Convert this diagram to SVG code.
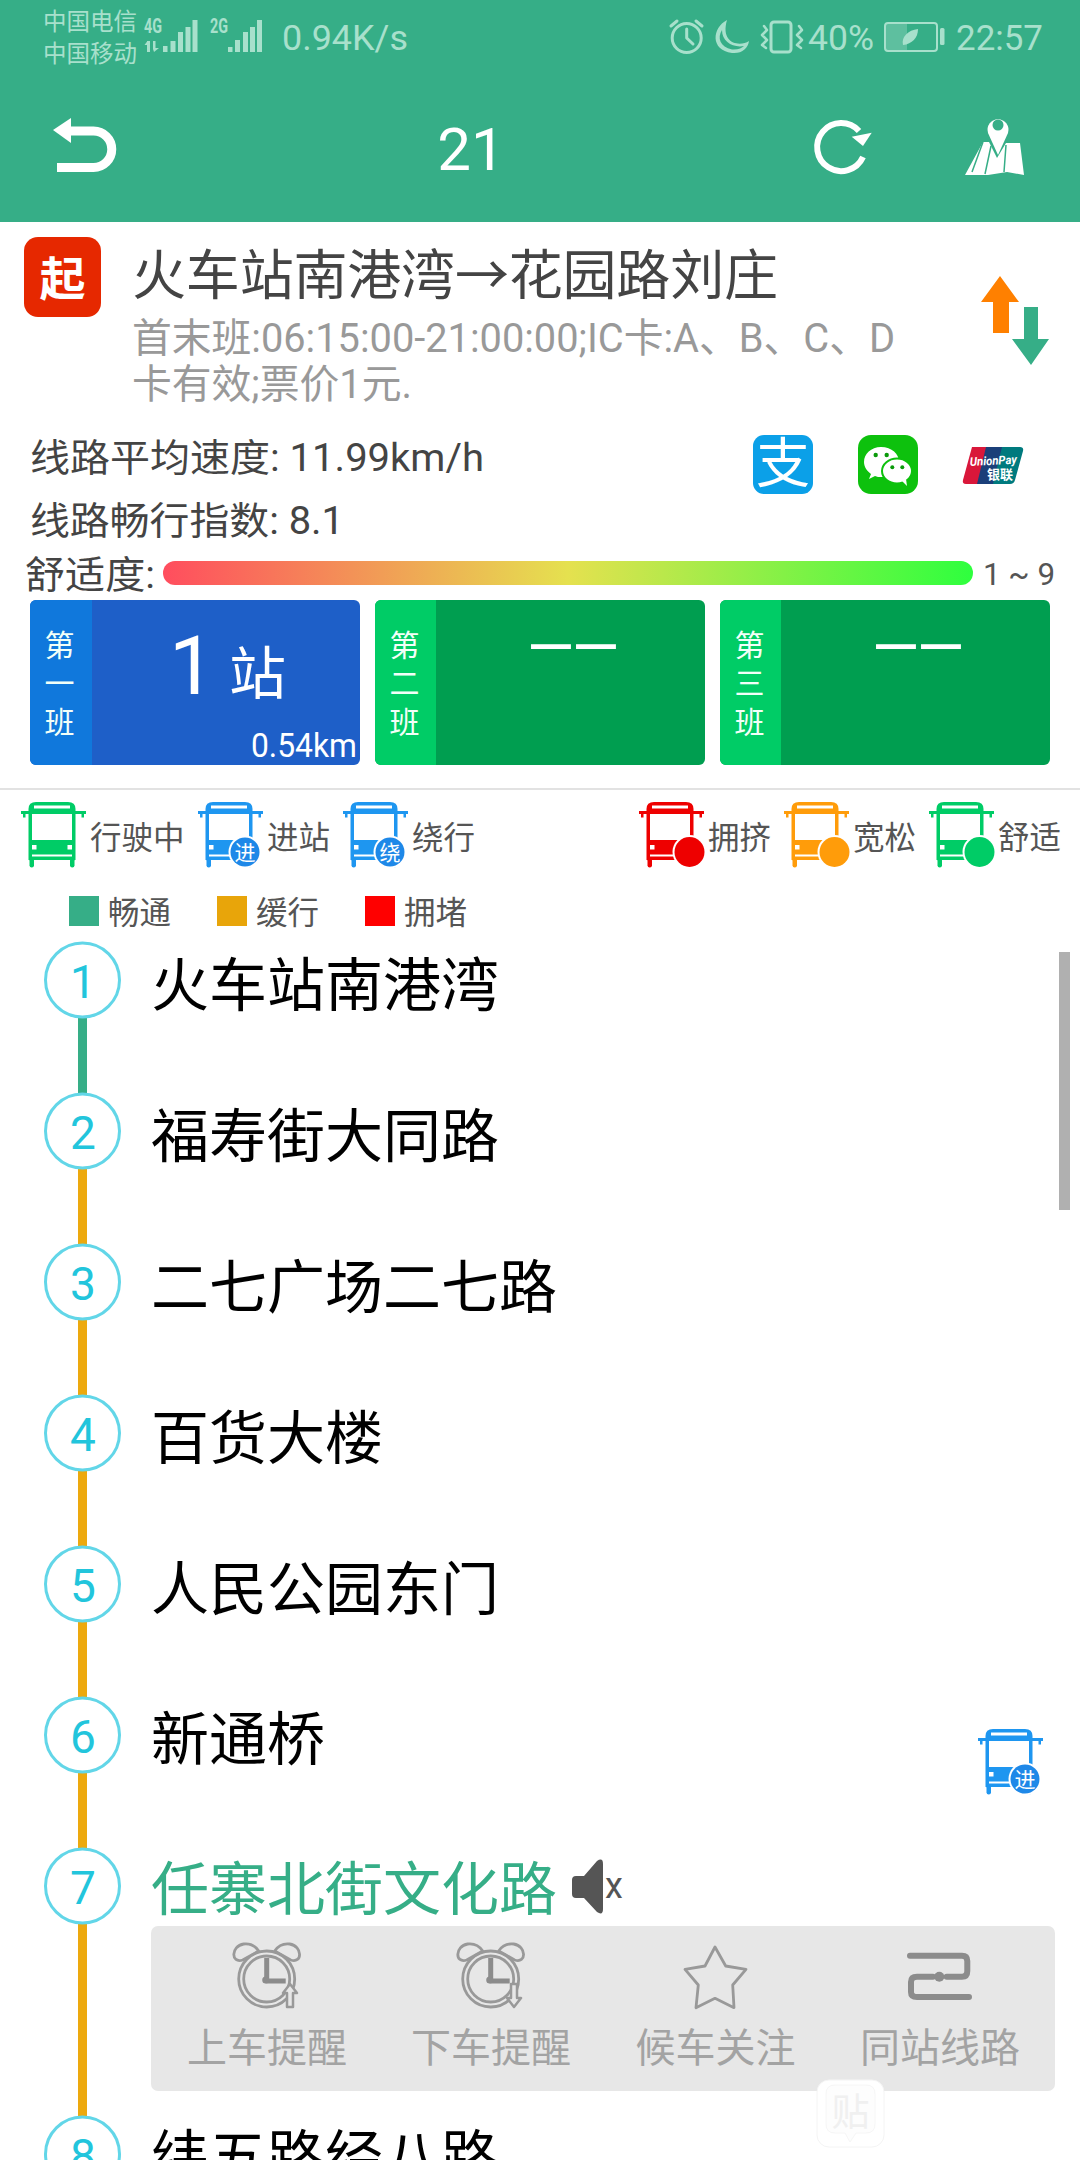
<svg xmlns="http://www.w3.org/2000/svg" width="1080" height="2160" viewBox="0 0 1080 2160">
<style>
text{font-family:Roboto,"Noto Sans CJK SC",sans-serif}
.st{fill:#a8e0cc;font-size:35px}
.car{fill:#a8e0cc;font-size:23.5px}
.si{fill:#a8e0cc}
.sl{fill:none;stroke:#a8e0cc;stroke-width:3;stroke-linecap:round;stroke-linejoin:round}
.info{fill:#444;font-size:38px}
.sub{fill:#999;font-size:40px}
.leg{fill:#555;font-size:31.5px}
.cv{fill:#f2fff8;font-size:30px;text-anchor:middle}
.num{fill:#22c5dc;font-size:46px;text-anchor:middle}
.ring{fill:#fff;stroke:#62d6e8;stroke-width:3}
.name{fill:#000;font-size:58px}
.lab{fill:#a3a3a3;font-size:40px}
.ic{fill:none;stroke:#999;stroke-width:2.800;stroke-linejoin:round;stroke-linecap:round}
.seg{stroke-width:9;fill:none}
.bb{fill:#fff;font-size:21px;text-anchor:middle}
</style>
<defs>
<linearGradient id="comfort" x1="0" y1="0" x2="1" y2="0"><stop offset="0" stop-color="#ff4d5e"/><stop offset=".5" stop-color="#e5e14f"/><stop offset="1" stop-color="#2eff3e"/></linearGradient>
<g id="bus">
<path d="M7.500 7Q7.500 0 15 0H47Q54.500 0 54.500 7V58H7.500Z"/>
<rect x="13" y="3.500" width="36" height="3" fill="#fff"/>
<rect x="11" y="12" width="40" height="26" fill="#fff"/>
<rect x="11" y="52.500" width="40" height="2" fill="#fff"/>
<rect x="11" y="43" width="4.500" height="4.500" fill="#fff"/>
<rect x="46.500" y="43" width="4.500" height="4.500" fill="#fff"/>
<path d="M0 9H8V12H4.500V15.500H2V12H0Z"/><path d="M65 9H54V12H60.500V15.500H63V12H65Z"/>
<rect x="8.500" y="56" width="4.500" height="9.500" rx="2.200"/><rect x="49" y="56" width="4.500" height="9.500" rx="2.200"/>
</g>
<g id="clock" class="ic">
<circle cx="0" cy="0" r="28"/>
<circle cx="0" cy="0" r="23"/>
<path d="M-24 -19C-36 -15 -36 -33 -23 -35C-14 -36 -10 -31 -8 -28Z"/>
<path d="M24 -19C36 -15 36 -33 23 -35C14 -36 10 -31 8 -28Z"/>
<path d="M0 -21V2H19" stroke="#8c8c8c" stroke-width="5" stroke-linecap="butt"/>
<circle cx="-1" cy="1" r="3.500" fill="#8c8c8c" stroke="none"/>
</g>
</defs>
<rect width="1080" height="2160" fill="#fff"/>

<g id="header">
<rect width="1080" height="222" fill="#36ae87"/>
<g id="status-bar">
<text class="car" x="43" y="30">中国电信</text>
<text class="car" x="43" y="62">中国移动</text>
<text x="144" y="33" fill="#a8e0cc" font-size="20" font-weight="700" textLength="18" lengthAdjust="spacingAndGlyphs">4G</text>
<path class="si" d="M147 41h3v11h-3zM144.500 45l3-4v4zM153 41h2.500v7h3.500l-5 4-1-3zM163 46h4.500v6H163zM170.500 41h5v11h-5zM178 32h5v20h-5zM185.500 27h5v25h-5zM192.500 20h5v32h-5z"/>
<text x="210" y="33" fill="#a8e0cc" font-size="20" font-weight="700" textLength="18" lengthAdjust="spacingAndGlyphs">2G</text>
<path class="si" d="M228 47h4.500v5H228zM235 40h5v12h-5zM243 32h5v20h-5zM250 27h5v25h-5zM257 20h5v32h-5z"/>
<text class="st" x="282" y="50" textLength="126" lengthAdjust="spacingAndGlyphs">0.94K/s</text>
<g class="sl"><circle cx="686.700" cy="38" r="14.500"/><path d="M686.700 29V38L693 44M671 26L677 21M702 26L696 21"/></g>
<path class="si" d="M727 20C712 28 710 50 732 53C742 54 748 48 749 41C740 47 720 44 727 20ZM722 30C717 38 720 47 732 49.500C738 50 742 48 744 46C733 48 722 42 722 30Z" fill-rule="evenodd"/>
<g class="sl"><rect x="771" y="22" width="20" height="30" rx="3"/><path d="M764 26L767 30L762 35L767 40L762 45L766 48M799 26L802 30L797 35L802 40L797 45L801 48" stroke-width="2.500"/></g>
<text class="st" x="808" y="50" textLength="66" lengthAdjust="spacingAndGlyphs">40%</text>
<rect x="885" y="23" width="52" height="28" rx="3" fill="none" stroke="#a8e0cc" stroke-width="2"/>
<rect x="886" y="24" width="21" height="26" fill="#a8e0cc" opacity=".35"/>
<path class="si" d="M903 45C901 37 908 30 918 29C918 38 912 44 903 45Z"/>
<rect x="940" y="28" width="4.500" height="17" rx="1.500" class="si"/>
<text class="st" x="956" y="50" textLength="87" lengthAdjust="spacingAndGlyphs">22:57</text>
</g>
<g id="back"><path d="M68 131H93.500A18 18 0 0 1 93.500 167.500H57" fill="none" stroke="#fff" stroke-width="9"/><path d="M53 130L71 118V143Z" fill="#fff"/></g>
<text id="route-title" x="471" y="170" fill="#fff" font-size="60" text-anchor="middle">21</text>
<g id="refresh"><path d="M859 131A24 24 0 1 0 863 157" fill="none" stroke="#fff" stroke-width="6"/><path d="M851.700 136.700L871.700 132.700L863 146Z" fill="#fff"/></g>
<g id="map">
<path d="M998 155L988 133A10.500 10.500 0 1 1 1008 133Z" fill="#fff"/><circle cx="998" cy="125" r="5.500" fill="#36ae87"/>
<path d="M983 142H989L997 158L1006 143H1020L1024 175L1007 172L988 175L965 175Z" fill="#fff"/>
<path d="M983 142L972 172M991 146L985 174M1006 145L1004 172" stroke="#36ae87" stroke-width="1.500" fill="none"/>
</g>
</g>

<g id="route-info">
<rect x="24" y="237" width="77" height="80" rx="14" fill="#e62800"/>
<text x="62.500" y="295" fill="#fff" font-size="46" font-weight="700" text-anchor="middle">起</text>
<text x="132" y="295" fill="#444" font-size="54" textLength="646" lengthAdjust="spacing">火车站南港湾→花园路刘庄</text>
<text class="sub" x="132" y="352" textLength="763" lengthAdjust="spacingAndGlyphs">首末班:06:15:00-21:00:00;IC卡:A、B、C、D</text>
<text class="sub" x="132" y="398" textLength="280" lengthAdjust="spacingAndGlyphs">卡有效;票价1元.</text>
<path d="M1000 276L1019 302H1009V333H993V302H981Z" fill="#ff8000"/>
<path d="M1031 365L1049 339H1038V307H1024V339H1012Z" fill="#36ae87"/>
</g>

<g id="stats">
<text class="info" x="30" y="471" textLength="454" lengthAdjust="spacingAndGlyphs">线路平均速度: 11.99km/h</text>
<text class="info" x="30" y="534" textLength="314" lengthAdjust="spacingAndGlyphs">线路畅行指数: 8.1</text>
<text class="info" x="25" y="588" textLength="130" lengthAdjust="spacingAndGlyphs">舒适度:</text>
<rect x="163" y="561" width="810" height="24" rx="12" fill="url(#comfort)"/>
<text x="983" y="585" fill="#555" font-size="32" textLength="72" lengthAdjust="spacingAndGlyphs">1 ~ 9</text>
<g id="alipay"><rect x="753" y="435" width="60" height="59" rx="11" fill="#0ba0e8"/><text x="783" y="483" fill="#fff" font-size="54" text-anchor="middle">支</text></g>
<g id="wechat"><rect x="858" y="435" width="60" height="59" rx="13" fill="#0dc10d"/>
<path d="M881 447C871 447 864 454 864 462C864 467 867 471 871 474L869 479L875 476C877 477 879 477 881 477C892 477 899 470 899 462C899 454 892 447 881 447Z" fill="#fff"/>
<ellipse cx="897" cy="471" rx="15" ry="12.500" fill="#fff" stroke="#0dc10d" stroke-width="2"/><path d="M902 481L907 486L906 479Z" fill="#fff"/>
<g fill="#0a9a0a"><circle cx="875.700" cy="455" r="2.200"/><circle cx="886.700" cy="455" r="2.200"/><circle cx="892.300" cy="467.300" r="2"/><circle cx="902.300" cy="467.300" r="2"/></g></g>
<g id="unionpay">
<path d="M972 447H990L981 484H966Q962 484 963 480Z" fill="#d9173a"/>
<path d="M986 447H1006L997 484H977Z" fill="#1b3f79"/>
<path d="M1002 447H1020Q1024 447 1023 451L1015 480Q1014 484 1010 484H993Z" fill="#007a7e"/>
<text x="970" y="466" fill="#fff" font-size="12" font-weight="700" font-style="italic" textLength="47" lengthAdjust="spacingAndGlyphs" transform="rotate(-3 970 466)">UnionPay</text>
<text x="987" y="479" fill="#fff" font-size="13" font-weight="700">银联</text>
</g>
</g>

<g id="card-1"><rect x="30" y="600" width="330" height="165" rx="6" fill="#1e5fc8"/><path d="M36 600H92V765H36A6 6 0 0 1 30 759V606A6 6 0 0 1 36 600Z" fill="#1078dc"/>
<text class="cv" x="59.500" y="656">第</text><text class="cv" x="59.500" y="694">一</text><text class="cv" x="59.500" y="733">班</text>
<text x="169" y="694" fill="#fff" font-size="82">1</text><text x="229" y="694" fill="#fff" font-size="57">站</text>
<text x="251" y="757" fill="#fff" font-size="33" textLength="106" lengthAdjust="spacingAndGlyphs">0.54km</text></g>
<g id="card-2"><rect x="375" y="600" width="330" height="165" rx="6" fill="#009e50"/><path d="M381 600H436V765H381A6 6 0 0 1 375 759V606A6 6 0 0 1 381 600Z" fill="#00cc66"/>
<text class="cv" x="404.500" y="656">第</text><text class="cv" x="404.500" y="694">二</text><text class="cv" x="404.500" y="733">班</text>
<text x="528" y="662" fill="#fff" font-size="42" font-weight="700" textLength="90" lengthAdjust="spacingAndGlyphs">——</text></g>
<g id="card-3"><rect x="720" y="600" width="330" height="165" rx="6" fill="#009e50"/><path d="M726 600H781V765H726A6 6 0 0 1 720 759V606A6 6 0 0 1 726 600Z" fill="#00cc66"/>
<text class="cv" x="749.500" y="656">第</text><text class="cv" x="749.500" y="694">三</text><text class="cv" x="749.500" y="733">班</text>
<text x="873" y="662" fill="#fff" font-size="42" font-weight="700" textLength="90" lengthAdjust="spacingAndGlyphs">——</text></g>
<rect id="divider" x="0" y="788" width="1080" height="2" fill="#e2e2e2"/>

<g id="legend-buses">
<g id="leg-running"><use href="#bus" x="21" y="802" fill="#00cc66"/><text class="leg" x="90" y="849">行驶中</text></g>
<g id="leg-arriving"><use href="#bus" x="198" y="802" fill="#1e96f0"/><circle cx="245" cy="852" r="16.500" fill="#fff"/><circle cx="245" cy="852" r="14.500" fill="#1e88e8"/><text class="bb" x="245" y="860">进</text><text class="leg" x="267" y="849">进站</text></g>
<g id="leg-detour"><use href="#bus" x="343" y="802" fill="#1e96f0"/><circle cx="390" cy="852" r="16.500" fill="#fff"/><circle cx="390" cy="852" r="14.500" fill="#1e88e8"/><text class="bb" x="390" y="860">绕</text><text class="leg" x="412" y="849">绕行</text></g>
<g id="leg-crowded"><use href="#bus" x="639" y="802" fill="#ee0000"/><circle cx="689.500" cy="852" r="17" fill="#fff"/><circle cx="689.500" cy="852" r="15" fill="#ee0000"/><text class="leg" x="708" y="849">拥挤</text></g>
<g id="leg-loose"><use href="#bus" x="784" y="802" fill="#ff9c0a"/><circle cx="834.500" cy="852" r="17" fill="#fff"/><circle cx="834.500" cy="852" r="15" fill="#ff9c0a"/><text class="leg" x="853" y="849">宽松</text></g>
<g id="leg-comfort"><use href="#bus" x="929" y="802" fill="#00cc66"/><circle cx="979.500" cy="852" r="17" fill="#fff"/><circle cx="979.500" cy="852" r="15" fill="#00cc66"/><text class="leg" x="998" y="849">舒适</text></g>
</g>
<g id="legend-traffic">
<g id="leg-smooth"><rect x="69" y="896" width="30" height="30" fill="#36ae87"/><text class="leg" x="108" y="924">畅通</text></g>
<g id="leg-slow"><rect x="217" y="896" width="30" height="30" fill="#e8a50a"/><text class="leg" x="256" y="924">缓行</text></g>
<g id="leg-jam"><rect x="365" y="896" width="30" height="30" fill="#ff0000"/><text class="leg" x="404" y="924">拥堵</text></g>
</g>

<g id="connectors">
<path class="seg" stroke="#36ae87" d="M82.500 1010V1140"/>
<path class="seg" stroke="#eda90e" d="M82.500 1140V2130"/>
</g>

<g id="station-1"><circle class="ring" cx="82.500" cy="980" r="37"/><text class="num" x="83" y="998">1</text><text class="name" x="151" y="1006">火车站南港湾</text></g>
<g id="station-2"><circle class="ring" cx="82.500" cy="1131" r="37"/><text class="num" x="83" y="1149">2</text><text class="name" x="151" y="1157">福寿街大同路</text></g>
<g id="station-3"><circle class="ring" cx="82.500" cy="1282" r="37"/><text class="num" x="83" y="1300">3</text><text class="name" x="151" y="1308">二七广场二七路</text></g>
<g id="station-4"><circle class="ring" cx="82.500" cy="1433" r="37"/><text class="num" x="83" y="1451">4</text><text class="name" x="151" y="1459">百货大楼</text></g>
<g id="station-5"><circle class="ring" cx="82.500" cy="1584" r="37"/><text class="num" x="83" y="1602">5</text><text class="name" x="151" y="1610">人民公园东门</text></g>
<g id="station-6"><circle class="ring" cx="82.500" cy="1735" r="37"/><text class="num" x="83" y="1753">6</text><text class="name" x="151" y="1760">新通桥</text></g>
<g id="station-7"><circle class="ring" cx="82.500" cy="1886" r="37"/><text class="num" x="83" y="1904">7</text><text class="name" x="151" y="1910" style="fill:#36ae87">任寨北街文化路</text>
<path d="M572 1880Q572 1876 576 1876H584L597 1861Q603 1857 603 1864V1909Q603 1916 597 1912L584 1898H576Q572 1898 572 1894Z" fill="#555"/><text x="605" y="1898" fill="#555" font-size="36">x</text></g>
<g id="station-8"><circle class="ring" cx="82.500" cy="2154" r="37"/><text class="num" x="83" y="2172">8</text><text class="name" x="151" y="2178">纬五路经八路</text></g>

<rect id="scrollbar" x="1059" y="952" width="11" height="258" fill="#b0b0b0"/>

<g id="bus-marker"><use href="#bus" x="978" y="1729" fill="#1e96f0"/><circle cx="1025" cy="1779" r="16.500" fill="#fff"/><circle cx="1025" cy="1779" r="14.500" fill="#1e88e8"/><text class="bb" x="1025" y="1787">进</text></g>

<g id="action-panel">
<rect x="151" y="1926" width="904" height="165" rx="7" fill="#e7e7e7"/>
<g id="act-board"><use href="#clock" x="266.700" y="1979"/><path d="M290 1984L297 1993H293V2007H287V1993H283Z" fill="#e7e7e7" stroke="#999" stroke-width="2.500" stroke-linejoin="round"/><text class="lab" x="187" y="2062">上车提醒</text></g>
<g id="act-alight"><use href="#clock" x="490.700" y="1979"/><path d="M514 2007L521 1998H517V1984H511V1998H507Z" fill="#e7e7e7" stroke="#999" stroke-width="2.500" stroke-linejoin="round"/><text class="lab" x="411" y="2062">下车提醒</text></g>
<g id="act-follow"><path class="ic" d="M715 1947L725.700 1966L746 1969.300L732.700 1985L734 2007.700L715 1998.300L696 2007.700L698.300 1985L685 1969.300L705 1966Z"/><text class="lab" x="635.500" y="2062">候车关注</text></g>
<g id="act-lines"><path d="M910 1955.700H962Q967.300 1955.700 967.300 1961V1971Q967.300 1976.700 962 1976.700H946.700M933 1976.700H917Q911 1976.700 911 1982V1992Q911 1997 917 1997H969" fill="none" stroke="#8c8c8c" stroke-width="6" stroke-linecap="round"/><circle cx="939.300" cy="1976.700" r="5" fill="#8c8c8c"/><text class="lab" x="860" y="2062">同站线路</text></g>
</g>

<g id="watermark">
<rect x="817" y="2080" width="67" height="67" rx="12" fill="#fff" stroke="#f4f4f4" stroke-width="1"/>
<path d="M826 2094Q826 2085 835 2085H866Q875 2085 875 2094V2124Q875 2133 866 2133H856L850 2142L845 2133H835Q826 2133 826 2124Z" fill="#fdfdfd" stroke="#f6f6f6"/>
<text x="850.500" y="2125" fill="#f0f0f0" font-size="38" text-anchor="middle">贴</text>
</g>
</svg>
